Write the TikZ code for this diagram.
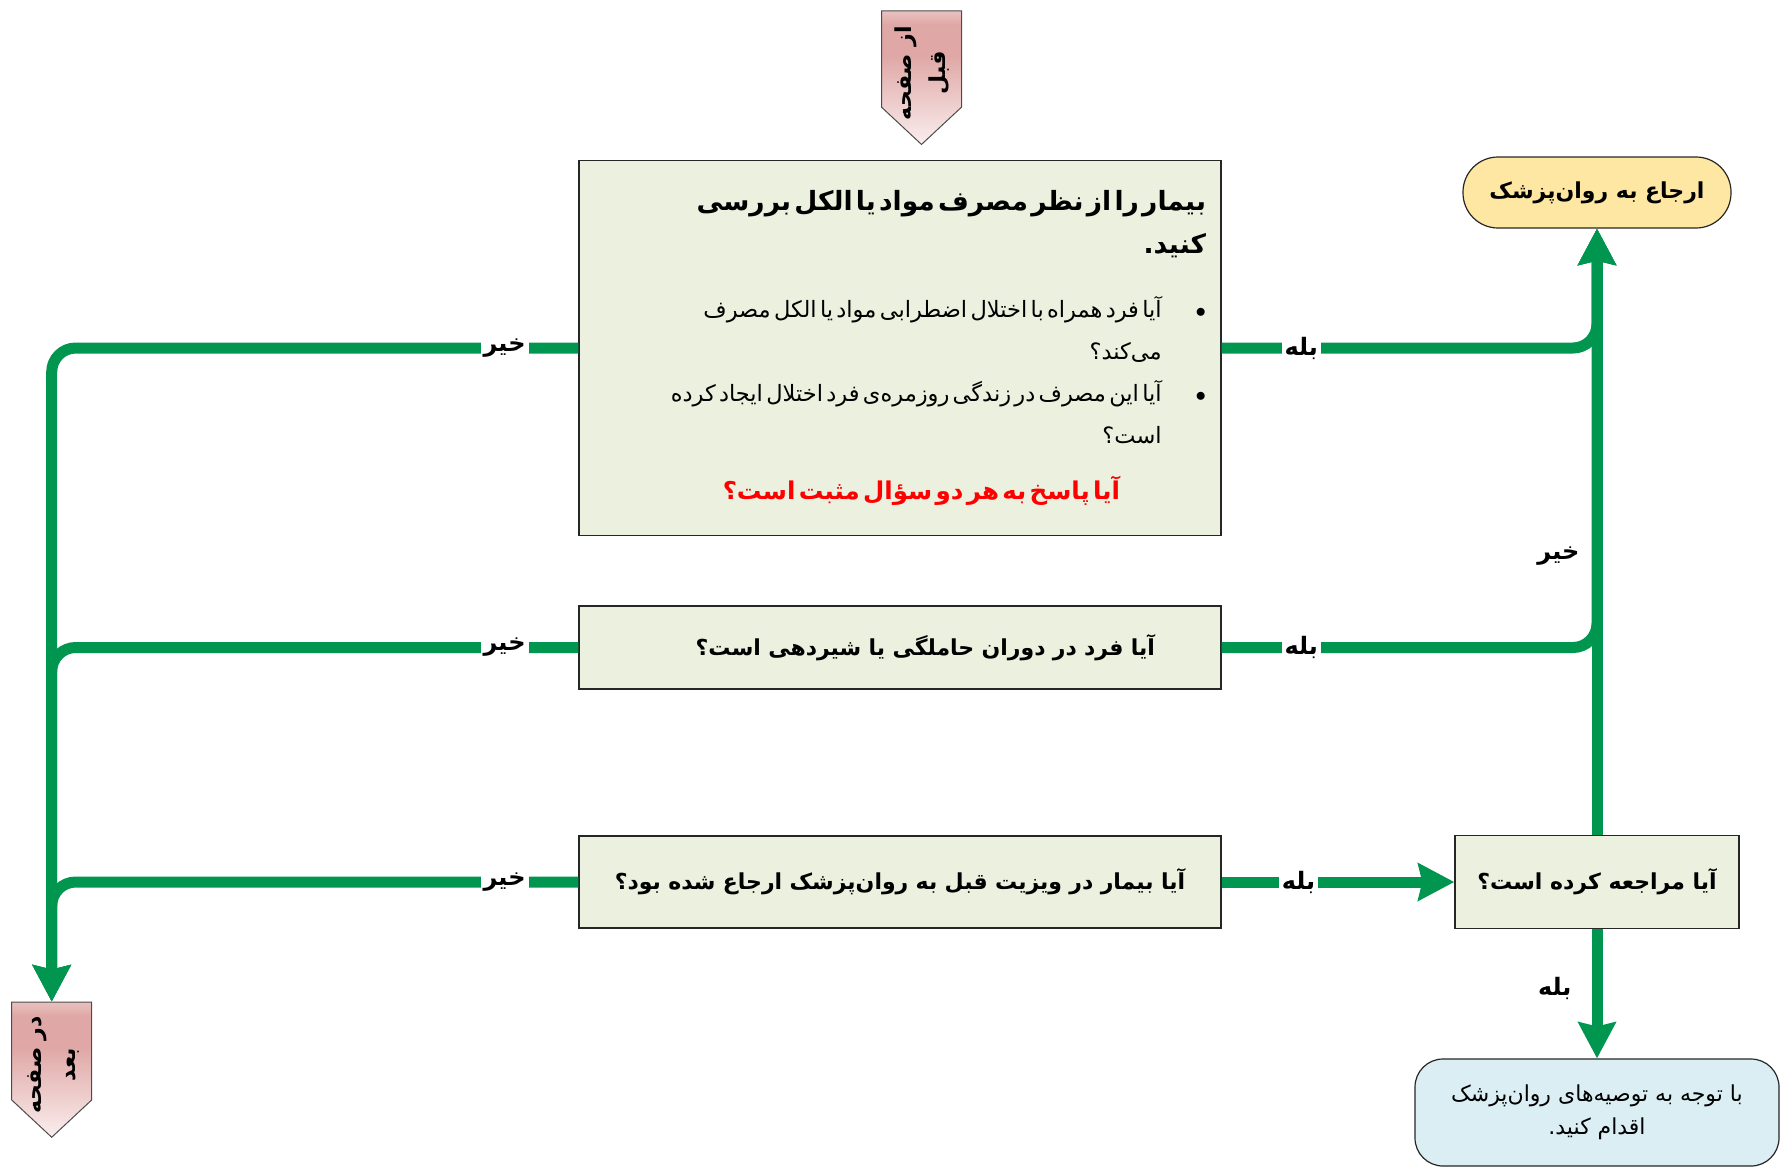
\documentclass[tikz,border=0pt]{standalone}
\usepackage{fontspec}
\usepackage{tikz}
\usetikzlibrary{positioning}
\usetikzlibrary{arrows.meta}
\usetikzlibrary{shapes.symbols}
\newfontfamily\fa[Script=Arabic]{DejaVu Sans}
\TeXXeTstate=1
\definecolor{linkgreen}{RGB}{0,150,80}
\definecolor{boxgreen}{RGB}{235,241,222}
\definecolor{refyellow}{RGB}{254,231,162}
\definecolor{endblue}{RGB}{219,238,243}
\definecolor{pinklow}{RGB}{250,238,238}
\definecolor{pinkmid}{RGB}{223,168,166}
\definecolor{pinktop}{RGB}{233,194,193}
\pgfdeclareverticalshading{pagepink}{100bp}{color(0bp)=(pinklow); color(25bp)=(pinklow); color(58bp)=(pinkmid); color(70bp)=(pinkmid); color(75bp)=(pinktop); color(100bp)=(pinktop)}
\newcommand{\fsz}[1]{\fontsize{#1}{#1}\selectfont}

\begin{document}
\begin{tikzpicture}
	[x=1pt, y=-1pt, font=\fa,
	main/.style = {draw=black!85, line width=1.4pt, fill=boxgreen, inner xsep=15pt, inner ysep=0pt, font=\fa\bfseries\fsz{22}},
	wide/.style = {main, minimum width=642pt, text width=612pt},
	terminal/.style = {draw=black!85, line width=1.2pt, inner sep=0pt},
	pagetag/.style = {shape=signal, signal to=south, signal pointer angle=94, draw=black!70, line width=1pt, shade, shading=pagepink, minimum width=80pt, minimum height=128pt, inner sep=0pt},
	link/.style = {draw=linkgreen, line width=11pt, rounded corners=24pt, -{Stealth[length=36pt, width=37pt, inset=4pt]}},
	ans/.style = {fill=white, sharp corners, inner xsep=3pt, inner ysep=0pt, font=\fa\bfseries\fsz{24}},
	side/.style = {inner sep=0pt, font=\fa\bfseries\fsz{24}}]
	\useasboundingbox (0,0) rectangle (1781,1168);

	\node[pagetag] (prevpg) at (921.5,59) {\rotatebox{90}{\bfseries\fontsize{22}{34}\selectfont\kern-14pt\begin{tabular}{@{}c@{}}\beginR از صفحه\endR\\ \beginR قبل\endR\end{tabular}\kern14pt}};
	\node[wide, minimum height=375pt, align=right, font=\fa] (q1) at (900,348) {%
		\vspace*{9pt}
		{\bfseries\fontsize{26.5}{34}\selectfont\beginR بیمار را از نظر مصرف مواد یا الکل بررسی\endR\\
		\beginR کنید.\endR\\[22pt]}
		{\fontsize{22.5}{42}\selectfont\beginR آیا فرد همراه با اختلال اضطرابی مواد یا الکل مصرف\endR\kern34pt$\bullet$\\
		\beginR می^^^^200cکند؟\endR\kern34pt\phantom{$\bullet$}\\
		\beginR آیا این مصرف در زندگی روزمره^^^^200cی فرد اختلال ایجاد کرده\endR\kern34pt$\bullet$\\
		\beginR است؟\endR\kern34pt\phantom{$\bullet$}\\[31pt]}
		{\bfseries\color{red}\fontsize{24.5}{34}\selectfont\beginR آیا پاسخ به هر دو سؤال مثبت است؟\endR\kern86pt}};
	\node[wide, minimum height=83pt, align=right] (q2) at (900,647.5) {\beginR آیا فرد در دوران حاملگی یا شیردهی است؟\endR\kern51pt};
	\node[wide, minimum height=92pt, align=center] (q3) at (900,882) {\beginR آیا بیمار در ویزیت قبل به روان^^^^200cپزشک ارجاع شده بود؟\endR};
	\node[main, minimum width=284pt, minimum height=93pt] (asked) at (1597,882) {\beginR آیا مراجعه کرده است؟\endR};
	\node[terminal, fill=refyellow, rounded corners=35pt, minimum width=268pt, minimum height=71pt, font=\fa\bfseries\fsz{22}] (refer) at (1597,192.5) {\beginR ارجاع به روان^^^^200cپزشک\endR};
	\node[terminal, fill=endblue, rounded corners=28pt, minimum width=364pt, minimum height=107pt, align=center, font=\fa\fontsize{22}{33}\selectfont] (final) at (1597,1112.5) {\beginR با توجه به توصیه^^^^200cهای روان^^^^200cپزشک\endR\\ \beginR اقدام کنید.\endR};
	\node[pagetag] (nextpg) at (51.7,1051) {\rotatebox{90}{\bfseries\fontsize{22}{34}\selectfont\kern-14pt\begin{tabular}{@{}c@{}}\beginR در صفحه\endR\\ \beginR بعد\endR\end{tabular}\kern14pt}};

	\draw[link] (q1.west) -| node[ans, pos=0.07] {\beginR خیر\endR} (nextpg.north);
	\draw[link] (q2.west) -| node[ans, pos=0.07] {\beginR خیر\endR} (nextpg.north);
	\draw[link] (q3.west) -| node[ans, pos=0.07] {\beginR خیر\endR} (nextpg.north);
	\draw[link] (q1.east) -| node[ans, pos=0.106] {\beginR بله\endR} (refer.south);
	\draw[link] (q2.east) -| node[ans, pos=0.106] {\beginR بله\endR} (refer.south);
	\draw[link] (asked.north) -- node[side, left=12pt, pos=0.46] {\beginR خیر\endR} (refer.south);
	\draw[link] (q3.east) -- node[ans, pos=0.33] {\beginR بله\endR} (asked.west);
	\draw[link] (asked.south) -- node[side, left=20pt, pos=0.46] {\beginR بله\endR} (final.north);
\end{tikzpicture}
\end{document}
